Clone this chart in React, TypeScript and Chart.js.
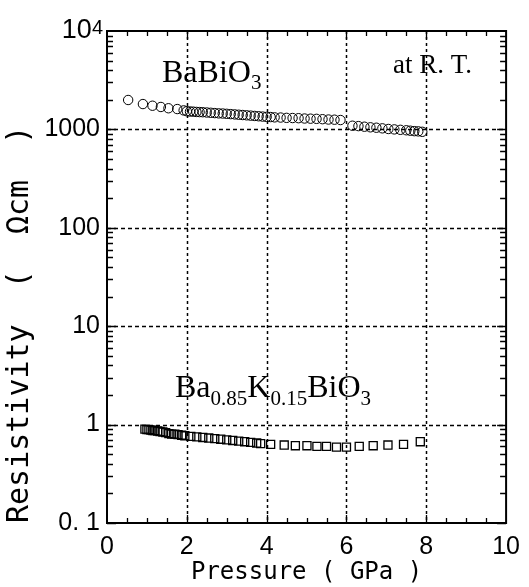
import React, { useEffect, useRef } from "react";
import { Chart, registerables } from "chart.js";

Chart.register(...registerables);

// BaBiO3 (circles)
const pressureBa = [0.53, 0.9, 1.14, 1.35, 1.54, 1.76, 1.92, 2.0, 2.08, 2.16, 2.24, 2.32, 2.4, 2.5, 2.6, 2.7, 2.8, 2.9, 3.0, 3.1, 3.2, 3.3, 3.4, 3.5, 3.6, 3.7, 3.8, 3.9, 4.0, 4.1, 4.2, 4.35, 4.5, 4.65, 4.8, 4.95, 5.1, 5.25, 5.4, 5.55, 5.7, 5.85, 6.15, 6.3, 6.45, 6.6, 6.75, 6.9, 7.05, 7.2, 7.35, 7.5, 7.6, 7.7, 7.8, 7.9];
const resistivityBa = [1990, 1810, 1740, 1690, 1640, 1610, 1560, 1530, 1520, 1515, 1505, 1500, 1495, 1485, 1475, 1465, 1455, 1450, 1440, 1430, 1420, 1410, 1400, 1390, 1380, 1370, 1360, 1350, 1340, 1335, 1325, 1320, 1310, 1305, 1300, 1290, 1285, 1280, 1270, 1260, 1255, 1245, 1090, 1080, 1065, 1050, 1040, 1025, 1010, 1000, 990, 980, 970, 960, 955, 945];

// Ba0.85K0.15BiO3 (squares)
const pressureK = [0.95, 1.0, 1.05, 1.1, 1.15, 1.2, 1.27, 1.33, 1.4, 1.47, 1.55, 1.62, 1.7, 1.78, 1.87, 1.95, 2.1, 2.25, 2.4, 2.55, 2.7, 2.85, 3.0, 3.15, 3.3, 3.45, 3.6, 3.75, 3.85, 4.1, 4.44, 4.72, 5.01, 5.26, 5.5, 5.75, 6.0, 6.32, 6.67, 7.04, 7.43, 7.85];
const resistivityK = [0.9, 0.89, 0.89, 0.88, 0.87, 0.87, 0.86, 0.85, 0.84, 0.83, 0.81, 0.8, 0.8, 0.79, 0.78, 0.77, 0.76, 0.75, 0.74, 0.73, 0.72, 0.71, 0.7, 0.69, 0.68, 0.67, 0.66, 0.65, 0.64, 0.63, 0.62, 0.61, 0.61, 0.6, 0.6, 0.59, 0.59, 0.6, 0.61, 0.62, 0.63, 0.67];

const xTickValues = [0, 2, 4, 6, 8, 10];
const xTickLabels = ["0", "2", "4", "6", "8", "10"];
const yTickValues = [0.1, 1, 10, 100, 1000, 10000];
const yTickLabels = ["0. 1", "1", "10", "100", "1000", ""];
const xGridValues = [2, 4, 6, 8];
const yGridValues = [1, 10, 100, 1000];

const xTitle = "Pressure ( GPa )";
const yTitle = "Resistivity  (  Ωcm  )";
const topTickBase = "10";
const topTickExp = "4";
const labelBa: [string, boolean][] = [["BaBiO", false], ["3", true]];
const labelK: [string, boolean][] = [["Ba", false], ["0.85", true], ["K", false], ["0.15", true], ["BiO", false], ["3", true]];
const labelRT = "at R. T.";

function drawRich(ctx: CanvasRenderingContext2D, parts: [string, boolean][], x: number, y: number, size: number, subSize: number, subDrop: number) {
  let cx = x;
  ctx.textBaseline = "alphabetic";
  ctx.textAlign = "left";
  for (const [t, sub] of parts) {
    ctx.font = `${sub ? subSize : size}px "Liberation Serif"`;
    ctx.fillText(t, cx, sub ? y + subDrop : y);
    cx += ctx.measureText(t).width;
  }
}

const decor = {
  id: "decor",
  beforeDatasetsDraw(chart: any) {
    const { ctx, chartArea, scales } = chart;
    const { left, right, top, bottom } = chartArea;
    const x = scales.x, y = scales.y;
    ctx.save();
    ctx.strokeStyle = "#000";
    ctx.lineWidth = 1.5;
    ctx.setLineDash([3, 3]);
    xGridValues.forEach((v) => {
      const px = Math.round(x.getPixelForValue(v)) + 0.5;
      ctx.beginPath();
      ctx.moveTo(px, top);
      ctx.lineTo(px, bottom);
      ctx.stroke();
    });
    ctx.setLineDash([4, 3]);
    yGridValues.forEach((v) => {
      const py = Math.round(y.getPixelForValue(v)) + 0.5;
      ctx.beginPath();
      ctx.moveTo(left, py);
      ctx.lineTo(right, py);
      ctx.stroke();
    });
    ctx.setLineDash([]);
    ctx.lineWidth = 1.3;
    for (let i = 1; i < 20; i++) {
      const v = i * 0.5;
      const px = Math.round(x.getPixelForValue(v)) + 0.5;
      const len = i % 4 === 0 ? 8 : 5;
      ctx.beginPath();
      ctx.moveTo(px, bottom);
      ctx.lineTo(px, bottom - len);
      ctx.moveTo(px, top);
      ctx.lineTo(px, top + len);
      ctx.stroke();
    }
    for (let d = -1; d <= 3; d++) {
      for (let m = 1; m <= 9; m++) {
        const v = m * Math.pow(10, d);
        const py = Math.round(y.getPixelForValue(v)) + 0.5;
        const len = m === 1 ? 9 : 6;
        ctx.beginPath();
        ctx.moveTo(left, py);
        ctx.lineTo(left + len, py);
        ctx.moveTo(right, py);
        ctx.lineTo(right - len, py);
        ctx.stroke();
      }
    }
    ctx.lineWidth = 2;
    ctx.strokeRect(left, top, right - left, bottom - top);
    ctx.restore();
  },
  afterDraw(chart: any) {
    const { ctx, chartArea, scales } = chart;
    const y = scales.y;
    ctx.save();
    ctx.fillStyle = "#000";
    // 10^4 tick label
    const py = y.getPixelForValue(10000);
    ctx.font = '20px "Liberation Sans"';
    const ew = ctx.measureText(topTickExp).width;
    ctx.textBaseline = "top";
    ctx.textAlign = "right";
    const exX = chartArea.left - 4;
    ctx.fillText(topTickExp, exX, py - 13);
    ctx.font = '27px "Liberation Sans"';
    ctx.textBaseline = "middle";
    ctx.fillText(topTickBase, exX - ew, py + 0);
    // annotations
    drawRich(ctx, labelBa, 162, 82, 32, 21, 7);
    drawRich(ctx, labelK, 175, 397, 32, 21, 8);
    ctx.font = '27px "Liberation Serif"';
    ctx.textAlign = "left";
    ctx.textBaseline = "alphabetic";
    ctx.fillText(labelRT, 393, 73);
    ctx.restore();
  },
};

export default function App() {
  const ref = useRef<HTMLCanvasElement | null>(null);
  useEffect(() => {
    document.body.style.margin = "0";
    const canvas = ref.current!;
    const chart = new Chart(canvas, {
      type: "scatter",
      data: {
        datasets: [
          {
            label: "BaBiO3",
            data: pressureBa.map((p, i) => ({ x: p, y: resistivityBa[i] })),
            pointStyle: "circle",
            pointRadius: 4.7,
            borderWidth: 1,
            borderColor: "#000",
            backgroundColor: "rgba(0,0,0,0)",
          },
          {
            label: "Ba0.85K0.15BiO3",
            data: pressureK.map((p, i) => ({ x: p, y: resistivityK[i] })),
            pointStyle: "rect",
            pointRadius: 5.7,
            borderWidth: 1.3,
            borderColor: "#000",
            backgroundColor: "rgba(0,0,0,0)",
          },
        ],
      },
      options: {
        responsive: false,
        animation: false,
        events: [],
        layout: { padding: { top: 31, right: 17, left: 0, bottom: 0 } },
        plugins: { legend: { display: false }, tooltip: { enabled: false } },
        scales: {
          x: {
            type: "linear",
            min: 0,
            max: 10,
            grid: { display: false, drawTicks: false },
            border: { display: false },
            afterBuildTicks: (s: any) => {
              s.ticks = xTickValues.map((v) => ({ value: v }));
            },
            afterFit: (s: any) => {
              s.height = 64;
            },
            ticks: {
              color: "#000",
              padding: 9,
              maxRotation: 0,
              font: { family: "Liberation Sans", size: 25 },
              callback: (v: any) => {
                const i = xTickValues.indexOf(Number(v));
                return i >= 0 ? xTickLabels[i] : "";
              },
            },
            title: {
              display: true,
              text: xTitle,
              color: "#000",
              font: { family: "DejaVu Sans Mono", size: 24 },
              padding: { top: 0, bottom: 0 },
            },
          },
          y: {
            type: "logarithmic",
            min: 0.1,
            max: 10000,
            grid: { display: false, drawTicks: false },
            border: { display: false },
            afterBuildTicks: (s: any) => {
              s.ticks = yTickValues.map((v) => ({ value: v }));
            },
            afterFit: (s: any) => {
              s.width = 107;
            },
            ticks: {
              color: "#000",
              padding: 7,
              font: { family: "Liberation Sans", size: 25 },
              callback: (v: any) => {
                const i = yTickValues.findIndex((t) => Math.abs(t - Number(v)) / t < 1e-6);
                return i >= 0 ? yTickLabels[i] : "";
              },
            },
            title: {
              display: true,
              text: yTitle,
              align: "start",
              color: "#000",
              font: { family: "DejaVu Sans Mono", size: 30 },
              padding: { top: 2, bottom: 2 },
            },
          },
        },
      },
      plugins: [decor],
    });
    return () => chart.destroy();
  }, []);
  return <canvas ref={ref} width={529} height={587} style={{ display: "block", width: 529, height: 587 }} />;
}
